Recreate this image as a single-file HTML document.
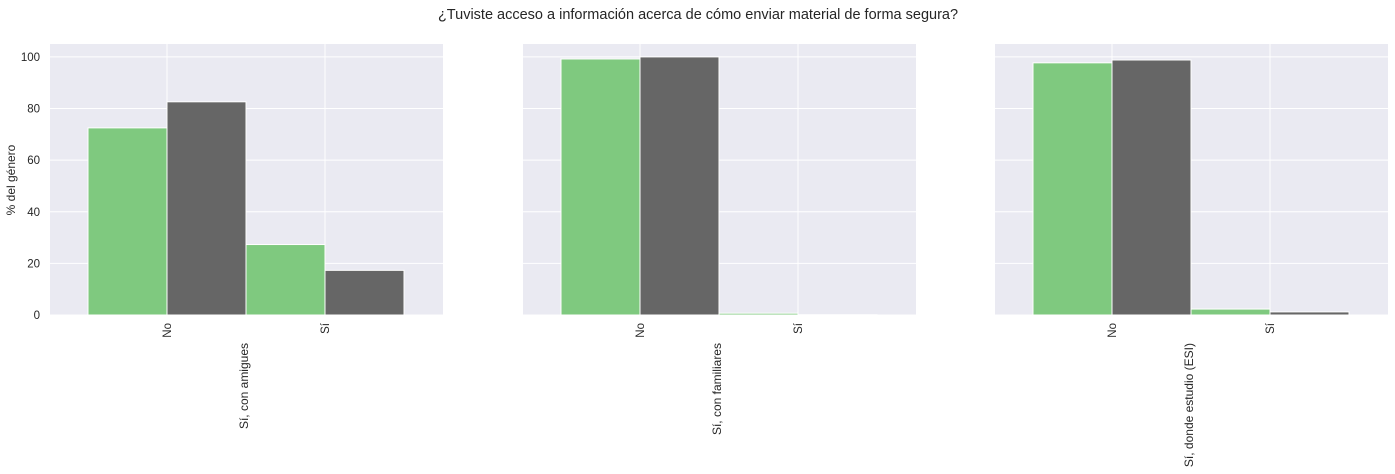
<!DOCTYPE html>
<html><head><meta charset="utf-8"><style>
body{margin:0;background:#fff;font-family:"Liberation Sans",sans-serif;overflow:hidden}
svg{display:block}
</style></head><body>
<svg id="c" width="1395" height="474" xmlns="http://www.w3.org/2000/svg" font-family="Liberation Sans, sans-serif">
<text x="698" y="19" text-anchor="middle" font-size="14.5" fill="#262626">¿Tuviste acceso a información acerca de cómo enviar material de forma segura?</text>
<text transform="translate(15,180) rotate(-90)" text-anchor="middle" font-size="12" fill="#262626">% del género</text>
</svg>
<script>
const categories=["No","Sí"];
const panelTitles=["Sí, con amigues","Sí, con familiares","Sí, donde estudio (ESI)"];
const seriesGreen=[[72.5,27.3],[99.2,0.7],[97.7,2.3]];
const seriesGray=[[82.6,17.3],[100,0.1],[98.8,1.2]];
const yTicks=[0,20,40,60,80,100];
const svg=document.getElementById('c');
const NS='http://www.w3.org/2000/svg';
function mk(t,a,p){const e=document.createElementNS(NS,t);for(const k in a)e.setAttribute(k,a[k]);(p||svg).appendChild(e);return e;}
const plotTop=44,plotBot=315,yMin=0,yMax=105;
function y(v){return plotBot-(v-yMin)/(yMax-yMin)*(plotBot-plotTop);}
const lefts=[50,523,995],W=393;
lefts.forEach((L,pi)=>{
 const g=mk('g',{});
 
 
 const bg=mk('rect',{x:L,y:plotTop,width:W,height:plotBot-plotTop,fill:'#eaeaf2'},g);
 
 
 const step=158, x0=L+117;
 function xc(i){return x0+i*step;}
 yTicks.forEach(t=>{
  const l=mk('line',{x1:L,x2:L+W,y1:y(t),y2:y(t),stroke:'#fff','stroke-width':1},g);
  
  
  if(pi===0){
   const tx=mk('text',{x:L-10,y:y(t)+4,'text-anchor':'end','font-size':11.5,fill:'#262626'},g);
   
   
   tx.textContent=t;
  }
 });
 categories.forEach((c,i)=>{
  const l=mk('line',{x1:xc(i),x2:xc(i),y1:plotTop,y2:plotBot,stroke:'#fff','stroke-width':1},g);
  
  
 });
 const bw=79;
 categories.forEach((c,i)=>{
  const vg=seriesGreen[pi][i], vk=seriesGray[pi][i];
  const b1=mk('rect',{x:xc(i)-bw,y:y(vg),width:bw,height:plotBot-y(vg),fill:'#7fc97f',stroke:'#fff','stroke-width':1},g);
  
  
  const b2=mk('rect',{x:xc(i),y:y(vk),width:bw,height:plotBot-y(vk),fill:'#666666',stroke:'#fff','stroke-width':1},g);
  
  
  const tl=mk('text',{transform:`translate(${xc(i)+4},${plotBot+8}) rotate(-90)`,'text-anchor':'end','font-size':11.5,fill:'#262626'},g);
  
  
  tl.textContent=c;
 });
 const xl=mk('text',{transform:`translate(${L+198},${plotBot+28}) rotate(-90)`,'text-anchor':'end','font-size':12,fill:'#262626'},g);
 
 
 xl.textContent=panelTitles[pi];
});
</script>
</body></html>
